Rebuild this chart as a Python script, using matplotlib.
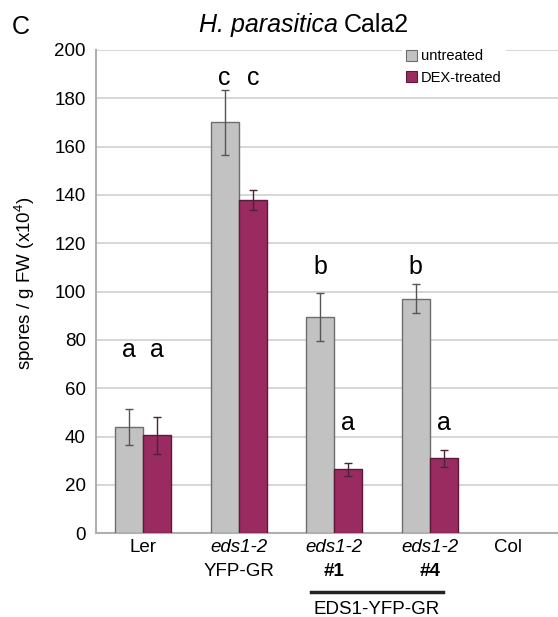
import numpy as np
import matplotlib
matplotlib.use('Agg')
import matplotlib.pyplot as plt
from matplotlib.patches import Patch
from matplotlib.lines import Line2D
from matplotlib.transforms import blended_transform_factory

plt.rcParams['font.family'] = ['Liberation Sans', 'DejaVu Sans']
plt.rcParams['mathtext.fontset'] = 'custom'
plt.rcParams['mathtext.rm'] = 'Liberation Sans'
plt.rcParams['mathtext.it'] = 'Liberation Sans:italic'

# spore counts per genotype (x10^4 spores / g FW)
genotypes = ['Ler', 'eds1-2 YFP-GR', 'eds1-2 #1', 'eds1-2 #4', 'Col']
line1 = ['Ler', 'eds1-2', 'eds1-2', 'eds1-2', 'Col']
line2 = ['', 'YFP-GR', '#1', '#4', '']
untreated = [44, 170, 89.5, 97]
untreated_err = [7.3, 13.5, 10, 6]
dex = [40.5, 138, 26.5, 31]
dex_err = [7.5, 4.2, 2.7, 3.4]
letters_untreated = ['a', 'c', 'b', 'b']
letters_dex = ['a', 'c', 'a', 'a']
letters_untreated_y = [76, 188.5, 110, 110]
letters_dex_y = [76, 188.5, 45.6, 45.6]

grey = '#c2c2c2'
grey_edge = '#6e6e6e'
plum = '#9a2b60'
plum_edge = '#5c1a3a'

fig = plt.figure(figsize=(5.58, 6.17), dpi=100)
ax = fig.add_axes([95.5 / 558, 1 - 533.3 / 617, 1 - 95.5 / 558, (533.3 - 50) / 617])

x = np.arange(len(untreated))
w = 0.294
ax.bar(x - w / 2, untreated, w, color=grey, edgecolor=grey_edge, linewidth=1.0, zorder=3)
ax.bar(x + w / 2, dex, w, color=plum, edgecolor=plum_edge, linewidth=1.0, zorder=3)
ax.errorbar(x - w / 2, untreated, yerr=untreated_err, fmt='none', ecolor='#555555',
            elinewidth=1.0, capsize=3, capthick=1.0, zorder=4)
ax.errorbar(x + w / 2, dex, yerr=dex_err, fmt='none', ecolor='#4a2436',
            elinewidth=1.0, capsize=3, capthick=1.0, zorder=4)

# significance letters
for i in range(len(untreated)):
    ax.text(x[i] - w / 2, letters_untreated_y[i], letters_untreated[i], fontsize=18,
            ha='center', va='center', zorder=5)
    ax.text(x[i] + w / 2, letters_dex_y[i], letters_dex[i], fontsize=18,
            ha='center', va='center', zorder=5)

ax.set_xlim(-0.5, -0.5 + (558 - 95.5) / 95.5)
ax.set_ylim(0, 200)
ax.set_yticks(np.arange(0, 201, 20))
ax.tick_params(axis='y', length=0, pad=7, labelsize=13.5)
ax.set_xticks([])
ax.yaxis.grid(True, color='#cfcfcf', linewidth=1.2, zorder=0)
ax.set_axisbelow(True)
for s in ['top', 'right']:
    ax.spines[s].set_visible(False)
for s in ['left', 'bottom']:
    ax.spines[s].set_color('#b0b0b0')
    ax.spines[s].set_linewidth(1.5)

ax.set_ylabel('spores / g FW (x10$^{4}$)', fontsize=13.5)
ax.yaxis.set_label_coords(-0.127, 0.518)

# category labels under the axis
tr = blended_transform_factory(ax.transData, fig.transFigure)
label_x = np.arange(len(genotypes)).astype(float)
label_x[-1] -= 0.18
for i in range(len(genotypes)):
    style = 'italic' if line1[i] == 'eds1-2' else 'normal'
    ax.text(label_x[i], 1 - 548 / 617, line1[i], transform=tr, fontsize=13.5,
            style=style, ha='center', va='center')
    weight = 'bold' if line2[i].startswith('#') else 'normal'
    ax.text(label_x[i], 1 - 571 / 617, line2[i], transform=tr, fontsize=13.5,
            weight=weight, ha='center', va='center')

fig.add_artist(Line2D([311 / 558, 443 / 558], [1 - 591.5 / 617] * 2, color='#222222',
                      linewidth=2.5, transform=fig.transFigure))
fig.text(377 / 558, 1 - 610 / 617, 'EDS1-YFP-GR', fontsize=13.5, ha='center', va='center')

fig.text(338 / 558, 1 - 25 / 617, 'H. parasitica', fontsize=18, style='italic',
         ha='right', va='center')
fig.text(344 / 558, 1 - 25 / 617, 'Cala2', fontsize=18, ha='left', va='center')
fig.text(21 / 558, 1 - 27 / 617, 'C', fontsize=18, ha='center', va='center')

handles = [Patch(facecolor=grey, edgecolor=grey_edge, linewidth=0.8),
           Patch(facecolor=plum, edgecolor=plum_edge, linewidth=0.8)]
leg = ax.legend(handles, ['untreated', 'DEX-treated'], loc='upper left',
                bbox_to_anchor=(402 / 558, 1 - 45 / 617), bbox_transform=fig.transFigure,
                fontsize=10.5, frameon=True, facecolor='white', edgecolor='none',
                framealpha=1, fancybox=False, handlelength=0.75, handleheight=0.75,
                handletextpad=0.25, labelspacing=0.5, borderpad=0.3, borderaxespad=0)
leg.set_zorder(6)

fig.savefig('out.png', dpi=100)
